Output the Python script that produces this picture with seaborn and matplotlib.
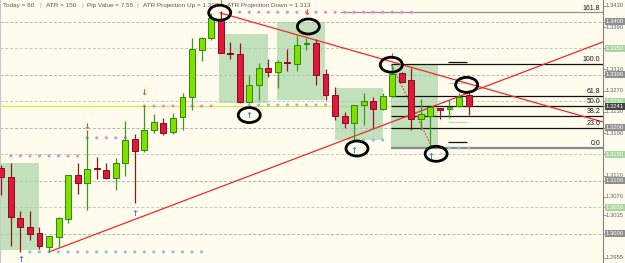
import matplotlib
matplotlib.use("Agg")
import matplotlib.pyplot as plt
from matplotlib.patches import Ellipse, Rectangle
import seaborn as sns
import pandas as pd
import numpy as np

# ---------------- data ----------------
opens = [1.3124, 1.3107, 1.3030, 1.3013, 1.3002, 1.2975, 1.2994, 1.3028, 1.3111, 1.3096,
         1.3125, 1.3121, 1.3105, 1.3134, 1.3179, 1.3158, 1.3196, 1.3209, 1.3192, 1.3221,
         1.3258, 1.3347, 1.3370, 1.3405, 1.3341, 1.3339, 1.3249, 1.3281, 1.3313, 1.3305,
         1.3324, 1.3321, 1.3358, 1.3360, 1.3302, 1.3262, 1.3222, 1.3209, 1.3243, 1.3251,
         1.3236, 1.3260, 1.3304, 1.3290, 1.3217, 1.3222, 1.3237, 1.3236, 1.3241, 1.3262]
highs = [1.3130, 1.3134, 1.3043, 1.3043, 1.3013, 1.2996, 1.3032, 1.3111, 1.3134, 1.3196,
         1.3145, 1.3134, 1.3143, 1.3213, 1.3188, 1.3243, 1.3226, 1.3219, 1.3228, 1.3266,
         1.3370, 1.3372, 1.3417, 1.3420, 1.3362, 1.3360, 1.3300, 1.3322, 1.3330, 1.3328,
         1.3349, 1.3375, 1.3370, 1.3368, 1.3311, 1.3277, 1.3230, 1.3243, 1.3266, 1.3258,
         1.3266, 1.3319, 1.3305, 1.3313, 1.3254, 1.3239, 1.3237, 1.3253, 1.3266, 1.3271]
lows = [1.3073, 1.2977, 1.2966, 1.2988, 1.2971, 1.2966, 1.2975, 1.3020, 1.3075, 1.3045,
        1.3104, 1.3104, 1.3083, 1.3109, 1.3058, 1.3154, 1.3190, 1.3187, 1.3188, 1.3196,
        1.3234, 1.3326, 1.3366, 1.3341, 1.3330, 1.3247, 1.3247, 1.3253, 1.3296, 1.3275,
        1.3307, 1.3307, 1.3347, 1.3281, 1.3253, 1.3215, 1.3200, 1.3177, 1.3205, 1.3200,
        1.3234, 1.3258, 1.3287, 1.3196, 1.3196, 1.3162, 1.3217, 1.3219, 1.3239, 1.3224]
closes = [1.3107, 1.3032, 1.3013, 1.3000, 1.2977, 1.2996, 1.3030, 1.3111, 1.3096, 1.3122,
          1.3123, 1.3105, 1.3134, 1.3177, 1.3156, 1.3196, 1.3211, 1.3190, 1.3219, 1.3258,
          1.3349, 1.3370, 1.3407, 1.3341, 1.3339, 1.3249, 1.3281, 1.3313, 1.3305, 1.3324,
          1.3322, 1.3356, 1.3360, 1.3300, 1.3262, 1.3222, 1.3209, 1.3243, 1.3251, 1.3236,
          1.3260, 1.3302, 1.3287, 1.3217, 1.3226, 1.3239, 1.3234, 1.3239, 1.3258, 1.3241]

current_price = 1.3241
fib_high = 1.3320
fib_low = 1.3162
fib_levels = [0.0, 23.6, 38.2, 50.0, 61.8, 100.0, 161.8]
fib_start = 40.9

header_items = ["Today = 60", "|", "ATR = 150", "|", "Pip Value = 7.55", "|",
                "ATR Projection Up = 1.337", "ATR Projection Down = 1.313"]

plain_labels = [1.3430, 1.3390, 1.3310, 1.3270, 1.3230, 1.3190, 1.3110, 1.3070, 1.3035, 1.2955]
gray_box_labels = [1.3400, 1.3300, 1.3200, 1.3100, 1.3000]
green_box_labels = [1.3350, 1.3250, 1.3150, 1.3050]

# dotted resistance / support rows: (price, first candle, last candle)
resistance_rows = [(1.3147, 1, 8), (1.3181, 9, 13), (1.3241, 15, 22), (1.3418, 24, 43)]
support_rows = [(1.2966, 3, 21), (1.3243, 26, 34), (1.3177, 38, 40), (1.3162, 47, 49)]

down_arrow_idx = [9, 15, 23, 32, 41]
down_arrow_price = [1.3202, 1.3266, 1.3434, 1.3417, 1.3334]
up_arrow_idx = [2, 14, 26, 37, 45]
up_arrow_price = [1.2951, 1.3038, 1.3224, 1.3158, 1.3145]

circle_idx = [22.9, 32.2, 26.0, 37.3, 40.9, 48.8, 45.6]
circle_price = [1.3417, 1.3391, 1.3224, 1.3161, 1.3319, 1.3281, 1.3151]

# zones: (start idx, end idx, low price, high price)
zones = [(-0.14, 3.95, 1.2970, 1.3134), (22.8, 28.0, 1.3247, 1.3377),
         (28.9, 33.9, 1.3253, 1.3400), (35.0, 40.0, 1.3177, 1.3275),
         (40.9, 45.8, 1.3160, 1.3319)]

trend_down = [(22.9, 63.1), (1.3417, 1.3211)]
trend_up = [(5.0, 63.1), (1.2966, 1.3362)]
fib_dotted = [(40.9, 45.2), (1.3319, 1.3162)]

atr_marks_black = [1.3324, 1.3173]
atr_marks_light = [1.3285, 1.3211]

# ---------------- style ----------------
BG = "#fffcee"
sns.set_style("white", {"axes.facecolor": BG, "figure.facecolor": BG})
plt.rcParams["font.family"] = ["Liberation Sans", "DejaVu Sans"]

W, H = 625, 263
fig = plt.figure(figsize=(W / 100, H / 100), dpi=100)
ax = fig.add_axes([0, 0, 603 / W, 1])
ax.set_facecolor(BG)
XMIN, XMAX = -0.14, 63.1
YMIN, YMAX = 1.29451, 1.3441
ax.set_xlim(XMIN, XMAX)
ax.set_ylim(YMIN, YMAX)

# grid lines
for p in gray_box_labels:
    ax.axhline(p, color="#b4b4b4", lw=0.7, ls=(0, (3, 2)), zorder=0.5)
for p in green_box_labels:
    ax.axhline(p, color="#b3d4ae", lw=0.7, ls=(0, (3, 2)), zorder=0.5)
ax.axhline(current_price, color="#e2e24a", lw=0.9, zorder=0.6)

# zones
for x0, x1, lo, hi in zones:
    ax.add_patch(Rectangle((x0, lo), x1 - x0, hi - lo, facecolor="#9fcf9f",
                           alpha=0.62, edgecolor="none", zorder=0.8))

# fib levels
rng = fib_high - fib_low
for lvl in fib_levels:
    p = fib_low + rng * lvl / 100.0
    if lvl == 0.0:
        ax.hlines(p, fib_start, XMAX, color="#8a8a8a", lw=1.6, zorder=1)
    elif lvl == 161.8:
        ax.hlines(p, 35.5, XMAX, color="#909090", lw=0.9, zorder=1)
    else:
        ax.hlines(p, fib_start, XMAX, color="#111111", lw=0.9, zorder=1)
    ax.text(XMAX - 0.3, p + 0.00015, f"{lvl:.1f}", ha="right", va="bottom",
            fontsize=5, color="#111111", zorder=5)

for p in atr_marks_black:
    ax.hlines(p, 46.8, 48.8, color="#111111", lw=0.9, zorder=1)
for p in atr_marks_light:
    ax.hlines(p, 46.8, 48.8, color="#b8d8b0", lw=0.9, zorder=1)

# trend lines
ax.plot(trend_down[0], trend_down[1], color="#ee2a2a", lw=0.9, zorder=2)
ax.plot(trend_up[0], trend_up[1], color="#ee2a2a", lw=0.9, zorder=2)
ax.plot(fib_dotted[0], fib_dotted[1], color="#e23030", lw=0.8, ls=(0, (1.5, 1.5)), zorder=2)

# dots
rows = []
for price, a, b in resistance_rows:
    for i in range(a, b + 1):
        rows.append({"x": i, "y": price, "kind": "res"})
for price, a, b in support_rows:
    for i in range(a, b + 1):
        rows.append({"x": i, "y": price, "kind": "sup"})
dots = pd.DataFrame(rows)
sns.scatterplot(data=dots, x="x", y="y", hue="kind", ax=ax,
                palette={"res": "#e58ad2", "sup": "#8fbbe8"}, s=5, linewidth=0,
                legend=False, zorder=3)

# candles
df = pd.DataFrame({"o": opens, "h": highs, "l": lows, "c": closes})
df["i"] = np.arange(len(df))
up = df["c"] >= df["o"]
for mask, body, edge, wick in [(up, "#7fe000", "#2c8a00", "#3a9a1a"),
                               (~up, "#e0183c", "#8a0a1c", "#8b1a1a")]:
    d = df[mask]
    ax.vlines(d["i"], d["l"], d["h"], color=wick, lw=0.9, zorder=3)
    bottom = np.minimum(d["o"], d["c"])
    height = np.maximum(np.abs(d["c"] - d["o"]), 0.00004)
    ax.bar(d["i"], height, bottom=bottom, width=0.62, color=body,
           edgecolor=edge, linewidth=0.7, zorder=4)

# arrows
for i, p in zip(down_arrow_idx, down_arrow_price):
    ax.text(i, p, "\u2193", ha="center", va="center", fontsize=6, color="#e8502a",
            fontweight="bold", family="DejaVu Sans", zorder=6)
for i, p in zip(up_arrow_idx, up_arrow_price):
    ax.text(i, p, "\u2191", ha="center", va="center", fontsize=6, color="#3a8ad8",
            fontweight="bold", family="DejaVu Sans", zorder=6)

# circles
cw = 22 / 603 * (XMAX - XMIN)
ch = 15 / 263 * (YMAX - YMIN)
for cx, cy in zip(circle_idx, circle_price):
    ax.add_patch(Ellipse((cx, cy), cw, ch, fill=False, edgecolor="black", lw=2.0, zorder=7))

# axes frame / right price scale
for s in ["top", "bottom"]:
    ax.spines[s].set_visible(False)
ax.spines["left"].set_color("#c8c8c8")
ax.spines["left"].set_linewidth(0.8)
ax.spines["right"].set_color("#808080")
ax.spines["right"].set_linewidth(0.8)
ax.set_xticks([])
all_ticks = plain_labels + gray_box_labels + green_box_labels + [current_price]
ax.yaxis.tick_right()
ax.set_yticks(all_ticks)
ax.set_yticklabels([])
ax.tick_params(axis="y", which="both", right=True, length=2, width=0.6, color="#808080", pad=0)
ax.set_xlabel("")
ax.set_ylabel("")

ytr = ax.get_yaxis_transform()
lab_kw = dict(transform=ytr, ha="left", va="center", fontsize=4.2, clip_on=False, zorder=8)
LX = 1.0045
for p in plain_labels:
    ax.text(LX, p, f"{p:.4f}", color="#606060", **lab_kw)
for p in gray_box_labels:
    ax.text(LX, p, f"{p:.4f}", color="white",
            bbox=dict(boxstyle="square,pad=0.18", fc="#8f8f8f", ec="none"), **lab_kw)
for p in green_box_labels:
    ax.text(LX, p, f"{p:.4f}", color="#f4fff0",
            bbox=dict(boxstyle="square,pad=0.18", fc="#a9d7a4", ec="none"), **lab_kw)
ax.text(LX, current_price, f"{current_price:.4f}", color="white",
        bbox=dict(boxstyle="square,pad=0.18", fc="#454545", ec="none"), **lab_kw)

# header
header_x = [3, 39, 46, 81, 87, 136, 143, 227]
for txt, px in zip(header_items, header_x):
    col = "#a0a0a0" if txt == "|" else "#585858"
    fig.text(px / W, 1 - 5.5 / H, txt, ha="left", va="center", fontsize=4.6, color=col)

fig.savefig("out.png", dpi=100, facecolor=BG)
